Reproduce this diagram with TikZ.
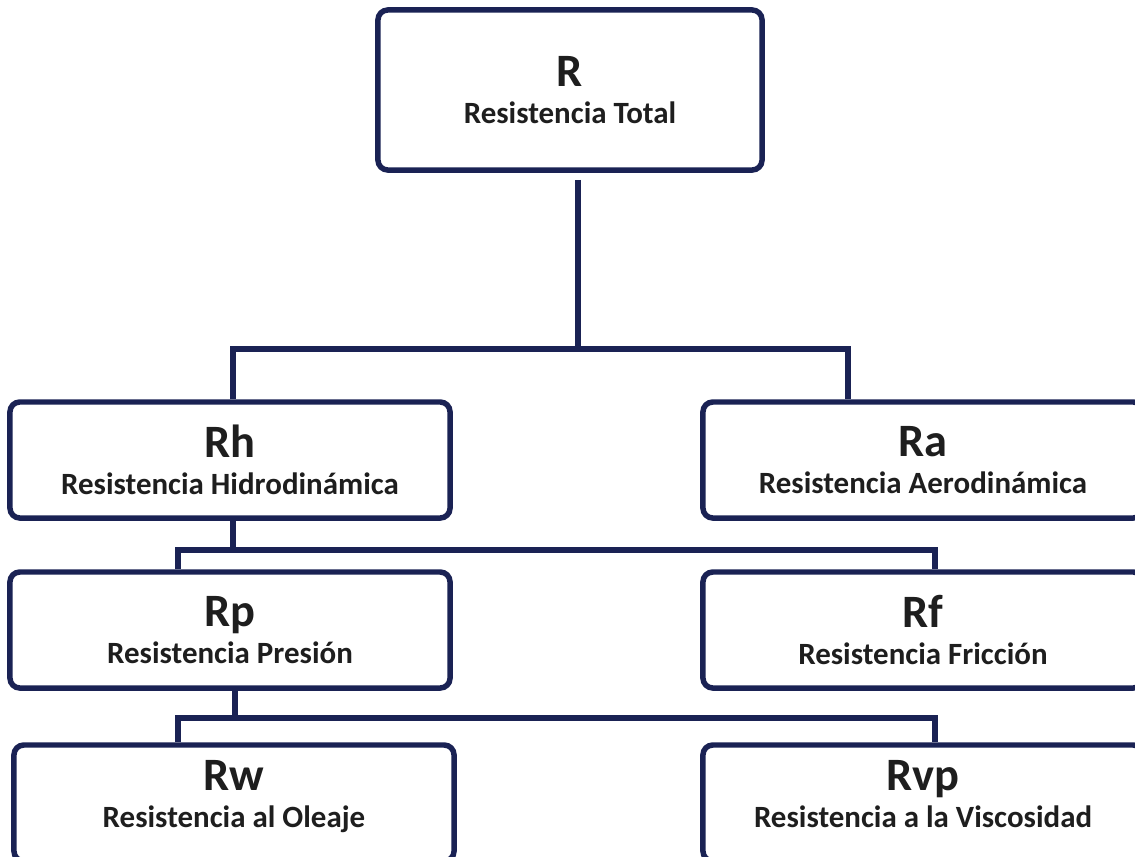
\documentclass[tikz,border=0pt]{standalone}
\usepackage{fontspec}
\setmainfont{Carlito}
\usetikzlibrary{positioning}
\definecolor{navy}{RGB}{26,34,84}
\definecolor{txt}{RGB}{30,30,30}
\newcommand{\boxtxt}[2]{{\fontsize{33}{33}\selectfont #1}\\{#2}}

\begin{document}
\begin{tikzpicture}[x=0.025cm, y=-0.025cm,
    blk/.style={draw=navy, line width=3.9pt, rounded corners=7pt, fill=white,
                minimum width=11cm, minimum height=2.9cm, align=center,
                text=txt, font=\bfseries\fontsize{22}{26.5}\selectfont, inner sep=0pt},
    top/.style={blk, minimum width=9.6cm, minimum height=4cm},
    low/.style={blk, text depth=13pt},
    ln/.style={draw=navy, line width=3.6pt}
  ]
  \useasboundingbox (0,0) rectangle (1135,856);
  \clip (0,0) rectangle (1135,856);

  \node[top] (R)   at (570,90)  {\boxtxt{R}{Resistencia Total}};
  \node[blk] (Rh)  at (230,460) {\boxtxt{Rh}{Resistencia Hidrodinámica}};
  \node[blk] (Ra)  at (923,460) {\boxtxt{Ra}{Resistencia Aerodinámica}};
  \node[blk] (Rp)  at (230,630) {\boxtxt{Rp}{Resistencia Presión}};
  \node[blk] (Rf)  at (923,630) {\boxtxt{Rf}{Resistencia Fricción}};
  \node[low] (Rw)  at (234,803) {\boxtxt{Rw}{Resistencia al Oleaje}};
  \node[low] (Rvp) at (923,803) {\boxtxt{Rvp}{Resistencia a la Viscosidad}};

  % junction points of the tree
  \coordinate (j1)  at (578,349);
  \coordinate (j1l) at (233,349);
  \coordinate (j1r) at (848,349);
  \coordinate (j2)  at (233,550);
  \coordinate (j2l) at (178,550);
  \coordinate (j2r) at (935,550);
  \coordinate (j3)  at (235,718);
  \coordinate (j3l) at (178,718);
  \coordinate (j3r) at (935,718);

  % R splits into Rh and Ra
  \draw[ln, shorten <=5pt] (R.south -| j1) -- (j1);
  \draw[ln] (Rh.north -| j1l) -- (j1l) -- (j1r) -- (Ra.north -| j1r);

  % Rh splits into Rp and Rf
  \draw[ln] (Rh.south -| j2) -- (j2);
  \draw[ln] (Rp.north -| j2l) -- (j2l) -- (j2r) -- (Rf.north -| j2r);

  % Rp splits into Rw and Rvp
  \draw[ln] (Rp.south -| j3) -- (j3);
  \draw[ln] (Rw.north -| j3l) -- (j3l) -- (j3r) -- (Rvp.north -| j3r);
\end{tikzpicture}
\end{document}
